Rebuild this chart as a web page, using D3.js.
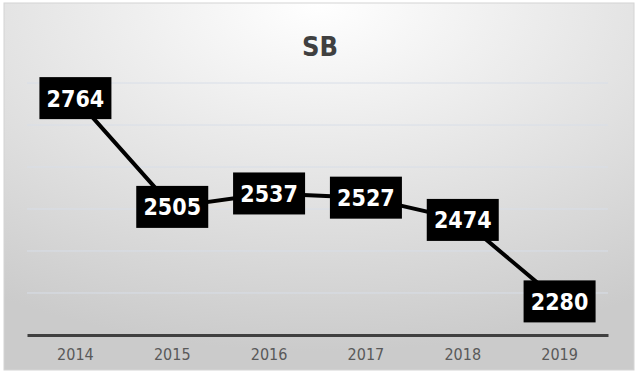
<!DOCTYPE html>
<html>
<head>
<meta charset="utf-8">
<script src="https://cdn.jsdelivr.net/npm/d3@7"></script>
<style>
  body { margin: 0; background: #fff; }
  svg { display: block; }
</style>
</head>
<body>
<div id="chart"></div>
<script>
const years = ["2014", "2015", "2016", "2017", "2018", "2019"];
const values = [2764, 2505, 2537, 2527, 2474, 2280];
const yTicks = [2200, 2300, 2400, 2500, 2600, 2700, 2800];

const width = 638, height = 375;
const margin = { top: 83, right: 30, bottom: 40, left: 27 };
const font = "'DejaVu Sans Condensed', 'DejaVu Sans', sans-serif";

const svg = d3.select("#chart").append("svg")
  .attr("width", width)
  .attr("height", height);

// background gradient like the office chart
const defs = svg.append("defs");
const grad = defs.append("radialGradient")
  .attr("id", "bg")
  .attr("cx", "50%").attr("cy", "0%")
  .attr("r", "95%")
  .attr("gradientUnits", "objectBoundingBox");
grad.append("stop").attr("offset", "0%").attr("stop-color", "#ffffff");
grad.append("stop").attr("offset", "100%").attr("stop-color", "#cbcbcb");

svg.append("rect")
  .attr("x", 4).attr("y", 3)
  .attr("width", 630).attr("height", 367)
  .attr("fill", "url(#bg)")
  .attr("stroke", "#d4d4d4")
  .attr("stroke-width", 1);

const x = d3.scaleBand()
  .domain(years)
  .range([margin.left, width - margin.right]);

const y = d3.scaleLinear()
  .domain([2200, 2800])
  .range([height - margin.bottom, margin.top]);

// gridlines
svg.append("g")
  .selectAll("line")
  .data(yTicks.slice(1))
  .join("line")
  .attr("x1", margin.left)
  .attr("x2", width - margin.right)
  .attr("y1", d => y(d))
  .attr("y2", d => y(d))
  .attr("stroke", "#d8dee8")
  .attr("stroke-width", 1);

// x axis
const xAxis = svg.append("g")
  .attr("transform", `translate(0,${y(2200)})`)
  .call(d3.axisBottom(x).tickSize(0).tickPadding(14));
xAxis.select(".domain")
  .attr("stroke", "#404040")
  .attr("stroke-width", 3);
xAxis.selectAll("text")
  .attr("fill", "#595959")
  .style("font-family", font)
  .style("font-size", "16px");

// title
svg.append("text")
  .attr("x", 320)
  .attr("y", 56)
  .attr("text-anchor", "middle")
  .attr("fill", "#404040")
  .style("font-family", font)
  .style("font-weight", "bold")
  .style("font-size", "27px")
  .text("SB");

const data = years.map((yr, i) => ({ year: yr, value: values[i] }));

const line = d3.line()
  .x(d => x(d.year) + x.bandwidth() / 2)
  .y(d => y(d.value));

svg.append("path")
  .datum(data)
  .attr("d", line)
  .attr("fill", "none")
  .attr("stroke", "#000")
  .attr("stroke-width", 4);

// data labels
const lbl = svg.append("g")
  .selectAll("g")
  .data(data)
  .join("g")
  .attr("transform", d => `translate(${x(d.year) + x.bandwidth() / 2},${y(d.value)})`);

lbl.append("rect")
  .attr("x", -36)
  .attr("y", -21)
  .attr("width", 72)
  .attr("height", 42)
  .attr("fill", "#000");

lbl.append("text")
  .attr("text-anchor", "middle")
  .attr("dy", "0.37em")
  .attr("fill", "#fff")
  .style("font-family", font)
  .style("font-weight", "bold")
  .style("font-size", "23px")
  .text(d => d.value);
</script>
</body>
</html>
